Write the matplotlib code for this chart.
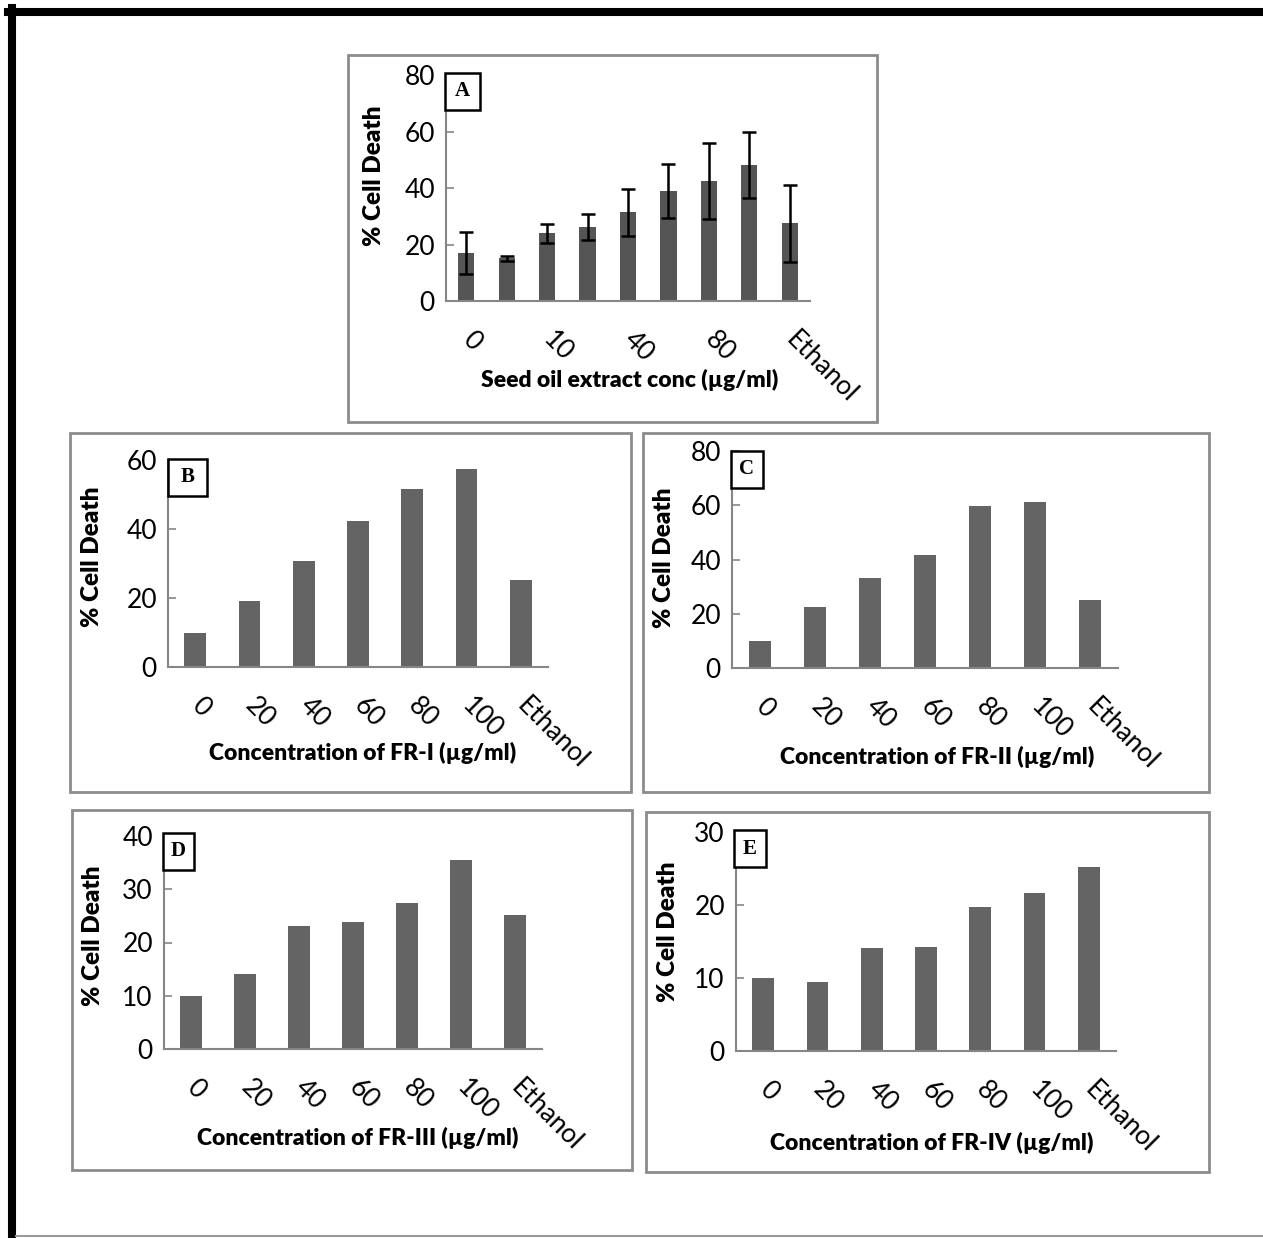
import matplotlib.pyplot as plt
from matplotlib.patches import Rectangle
from matplotlib.lines import Line2D

# % cell death for the seed oil extract and its four fractions
conc_a = ["0", "5", "10", "20", "40", "60", "80", "100", "Ethanol"]
death_a = [17.0, 15.1, 24.0, 26.1, 31.4, 38.9, 42.5, 48.2, 27.5]
err_a = [7.4, 1.0, 3.4, 4.6, 8.4, 9.6, 13.6, 11.6, 13.6]

conc = ["0", "20", "40", "60", "80", "100", "Ethanol"]
death_fr1 = [10.0, 19.2, 30.8, 42.3, 51.7, 57.3, 25.2]
death_fr2 = [10.0, 22.6, 33.1, 41.8, 59.8, 61.3, 25.2]
death_fr3 = [10.0, 14.0, 23.1, 23.9, 27.5, 35.4, 25.2]
death_fr4 = [10.0, 9.5, 14.1, 14.2, 19.7, 21.6, 25.2]

W, H = 1263, 1238
plt.rcParams['font.family'] = ['Lato', 'DejaVu Sans']
fig = plt.figure(figsize=(W / 100, H / 100), dpi=100)

AXIS_GREY = '#868686'


def fx(x):
    return x / W


def fy(y):
    return 1 - y / H


def fig_rect(x0, y0, x1, y1, **kw):
    fig.patches.append(Rectangle((fx(x0), fy(y1)), fx(x1) - fx(x0), fy(y0) - fy(y1),
                                 transform=fig.transFigure, fill=False, **kw))


# outer frame
fig.add_artist(Line2D([fx(8), 1], [fy(12), fy(12)], color='black', lw=5.8))
fig.add_artist(Line2D([fx(12), fx(12)], [fy(8), 0], color='black', lw=5.8))
fig.add_artist(Line2D([fx(16), 1], [fy(1236), fy(1236)], color='#9a9a9a', lw=1.5))

panels = [
    dict(cats=conc_a, vals=death_a, err=err_a, color='#555555', ymax=80, step=20,
         ax=(446, 75, 810, 301), frame=(348, 55, 877, 422), box=(445, 73, 480, 110),
         letter='A', xlabel='Seed oil extract conc (µg/ml)', xl=(630, 380), yl=(374, 176)),
    dict(cats=conc, vals=death_fr1, err=None, color='#646464', ymax=60, step=20,
         ax=(168, 460, 548, 667), frame=(70, 433, 631, 792), box=(168, 459, 207, 496),
         letter='B', xlabel='Concentration of FR-I (µg/ml)', xl=(363, 753), yl=(92, 557)),
    dict(cats=conc, vals=death_fr2, err=None, color='#646464', ymax=80, step=20,
         ax=(732, 451, 1118, 668), frame=(643, 433, 1209, 792), box=(731, 451, 763, 488),
         letter='C', xlabel='Concentration of FR-II (µg/ml)', xl=(937, 757), yl=(664, 558)),
    dict(cats=conc, vals=death_fr3, err=None, color='#646464', ymax=40, step=10,
         ax=(164, 836, 542, 1049), frame=(72, 810, 632, 1170), box=(163, 833, 194, 870),
         letter='D', xlabel='Concentration of FR-III (µg/ml)', xl=(358, 1138), yl=(93, 936)),
    dict(cats=conc, vals=death_fr4, err=None, color='#646464', ymax=30, step=10,
         ax=(736, 832, 1116, 1051), frame=(646, 812, 1209, 1172), box=(734, 830, 766, 867),
         letter='E', xlabel='Concentration of FR-IV (µg/ml)', xl=(932, 1143), yl=(668, 932)),
]

for p in panels:
    x0, y0, x1, y1 = p['ax']
    ax = fig.add_axes([fx(x0), fy(y1), fx(x1) - fx(x0), fy(y0) - fy(y1)])
    n = len(p['cats'])
    pos = list(range(n))
    ax.bar(pos, p['vals'], width=0.4, color=p['color'], zorder=2)
    if p['err'] is not None:
        ax.errorbar(pos, p['vals'], yerr=p['err'], fmt='none', ecolor='black',
                    elinewidth=1.8, capsize=5, capthick=1.8, zorder=3)
    ax.set_xlim(-0.5, n - 0.5)
    ax.set_ylim(0, p['ymax'])
    ax.set_yticks(range(0, p['ymax'] + 1, p['step']))
    ax.tick_params(axis='y', direction='in', length=6, width=1.2, color=AXIS_GREY,
                   labelsize=19, pad=8)
    ax.set_xticks(pos)
    labels = p['cats'] if n < 9 else [c if i % 2 == 0 else '' for i, c in enumerate(p['cats'])]
    ax.set_xticklabels(labels, rotation=-45, ha='left', va='center',
                       rotation_mode='anchor', fontsize=19)
    ax.tick_params(axis='x', length=0, pad=25)
    for s in ('top', 'right'):
        ax.spines[s].set_visible(False)
    for s in ('left', 'bottom'):
        ax.spines[s].set_color(AXIS_GREY)
        ax.spines[s].set_linewidth(1.5)

    # axis titles placed from pixel centres
    ax.set_xlabel(p['xlabel'], fontsize=16.5, fontweight='heavy', va='center')
    ax.xaxis.set_label_coords((p['xl'][0] - x0) / (x1 - x0), (y1 - p['xl'][1]) / (y1 - y0))
    ax.set_ylabel('% Cell Death', fontsize=17.5, fontweight='heavy', va='center')
    ax.yaxis.set_label_coords((p['yl'][0] - x0) / (x1 - x0), (y1 - p['yl'][1]) / (y1 - y0))

    fig_rect(*p['frame'], edgecolor='#8c8c8c', lw=2)
    bx0, by0, bx1, by1 = p['box']
    fig.patches.append(Rectangle((fx(bx0), fy(by1)), fx(bx1) - fx(bx0), fy(by0) - fy(by1),
                                 transform=fig.transFigure, facecolor='white',
                                 edgecolor='black', lw=1.8, zorder=5))
    fig.text(fx((bx0 + bx1) / 2), fy((by0 + by1) / 2), p['letter'],
             family='Liberation Serif', fontweight='bold', fontsize=15,
             ha='center', va='center', zorder=6)

fig.savefig('out.png', dpi=100, facecolor='white')
